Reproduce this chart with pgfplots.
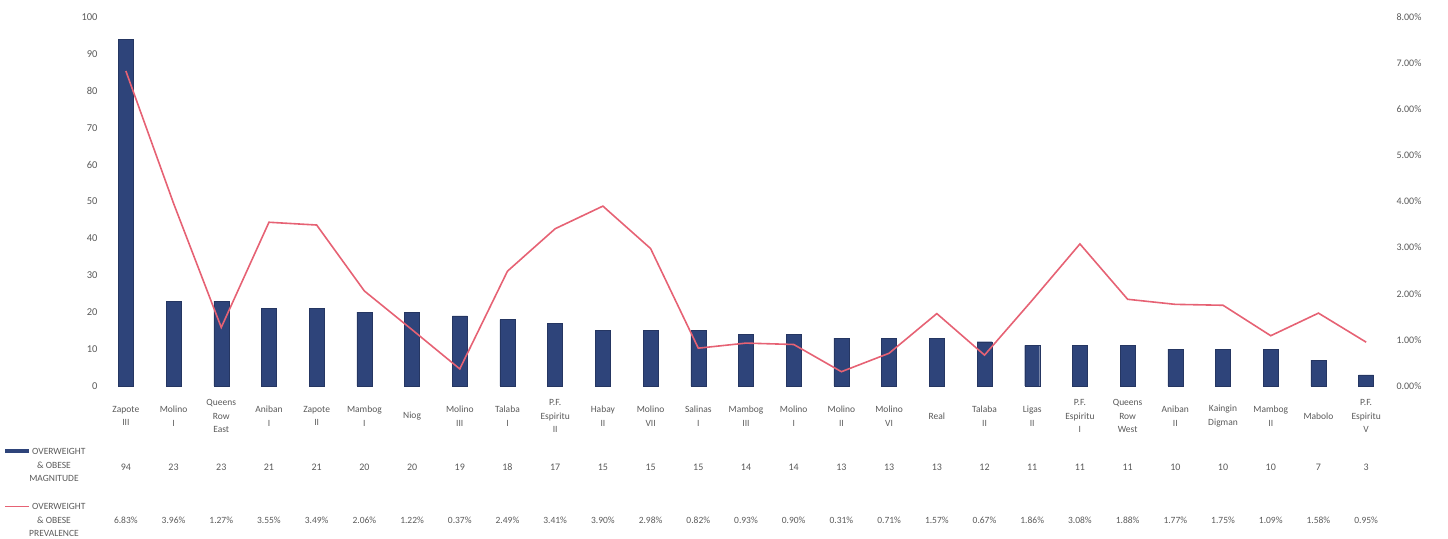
\documentclass[border=0pt]{standalone}
\usepackage{pgfplots}
\pgfplotsset{compat=1.18}
\usepackage{pgfplotstable}
\usepackage{fontspec}
\setmainfont{Carlito}

\definecolor{barnavy}{RGB}{46,68,122}
\definecolor{linepink}{RGB}{230,98,116}
\definecolor{txtgray}{RGB}{90,90,90}

% idx, overweight & obese magnitude, prevalence (%)
\pgfplotstableread{
idx mag prev
0  94 6.83
1  23 3.96
2  23 1.27
3  21 3.55
4  21 3.49
5  20 2.06
6  20 1.22
7  19 0.37
8  18 2.49
9  17 3.41
10 15 3.90
11 15 2.98
12 15 0.82
13 14 0.93
14 14 0.90
15 13 0.31
16 13 0.71
17 13 1.57
18 12 0.67
19 11 1.86
20 11 3.08
21 11 1.88
22 10 1.77
23 10 1.75
24 10 1.09
25 7  1.58
26 3  0.95
}\datatable

\begin{document}
\begin{tikzpicture}[x=1pt,y=1pt]
\path[use as bounding box] (0,0) rectangle (1448,538);

\pgfplotsset{
  commonaxis/.style={
    at={(102pt,152pt)}, anchor=south west,
    scale only axis, width=1288pt, height=369pt,
    xmin=-0.5, xmax=26.5,
    axis line style={draw=none},
    tick style={draw=none},
    clip=false,
    ticklabel style={text=txtgray},
    /pgf/number format/assume math mode=true,
  }
}

% left axis: magnitude bars, category labels and the data table rows
\begin{axis}[
  commonaxis,
  ymin=0, ymax=100, ytick={0,10,...,100},
  yticklabel style={font=\fontsize{10.5}{12}\selectfont, xshift=-1pt},
  xtick={0,...,26},
  xticklabels={{Zapote\\III},{Molino\\I},{Queens\\Row\\East},{Aniban\\I},{Zapote\\II},{Mambog\\I},{Niog},{Molino\\III},{Talaba\\I},{P.F.\\Espiritu\\II},{Habay\\II},{Molino\\VII},{Salinas\\I},{Mambog\\III},{Molino\\I},{Molino\\II},{Molino\\VI},{Real},{Talaba\\II},{Ligas\\II},{P.F.\\Espiritu\\I},{Queens\\Row\\West},{Aniban\\II},{Kaingin\\Digman},{Mambog\\II},{Mabolo},{P.F.\\Espiritu\\V}},
  xticklabel style={font=\fontsize{9.5}{13.5}\selectfont, align=center, anchor=center, yshift=-30pt},
]
\addplot[ybar, bar width=15pt, fill=barnavy, draw=barnavy!80!black] table[x=idx, y=mag] {\datatable};

% data table row: magnitude
\addplot[draw=none, mark=none, point meta=explicit,
  nodes near coords,
  nodes near coords style={anchor=center, text=txtgray, font=\fontsize{10}{11}\selectfont}]
  table[x=idx, y expr=-22.0, meta=mag] {\datatable};

% data table row: prevalence
\addplot[draw=none, mark=none, point meta=explicit,
  nodes near coords={\pgfmathprintnumber[fixed,fixed zerofill,precision=2]{\pgfplotspointmeta}\%},
  nodes near coords style={anchor=center, text=txtgray, font=\fontsize{9.5}{11}\selectfont}]
  table[x=idx, y expr=-36.4, meta=prev] {\datatable};
\end{axis}

% right axis: prevalence line
\begin{axis}[
  commonaxis,
  axis x line=none,
  axis y line*=right,
  ymin=0, ymax=8, ytick={0,1,...,8},
  yticklabel={\pgfmathprintnumber[fixed,fixed zerofill,precision=2]{\tick}\%},
  yticklabel style={font=\fontsize{10}{11}\selectfont, xshift=3pt},
]
\addplot[color=linepink, line width=1.6pt, mark=none] table[x=idx, y=prev] {\datatable};
\end{axis}

% row headers of the data table with their legend keys
\begin{scope}[every node/.style={text=txtgray, font=\fontsize{9.5}{11}\selectfont, inner sep=0pt}]
  \fill[barnavy] (5,84.5) rectangle (29,89);
  \node[anchor=west] at (32,86.5) {OVERWEIGHT};
  \node at (54,73) {\& OBESE};
  \node at (54,60) {MAGNITUDE};
  \draw[linepink, line width=1.6pt] (5,31.5) -- (29,31.5);
  \node[anchor=west] at (32,31.5) {OVERWEIGHT};
  \node at (54,18) {\& OBESE};
  \node at (54,5) {PREVALENCE};
\end{scope}
\end{tikzpicture}
\end{document}
